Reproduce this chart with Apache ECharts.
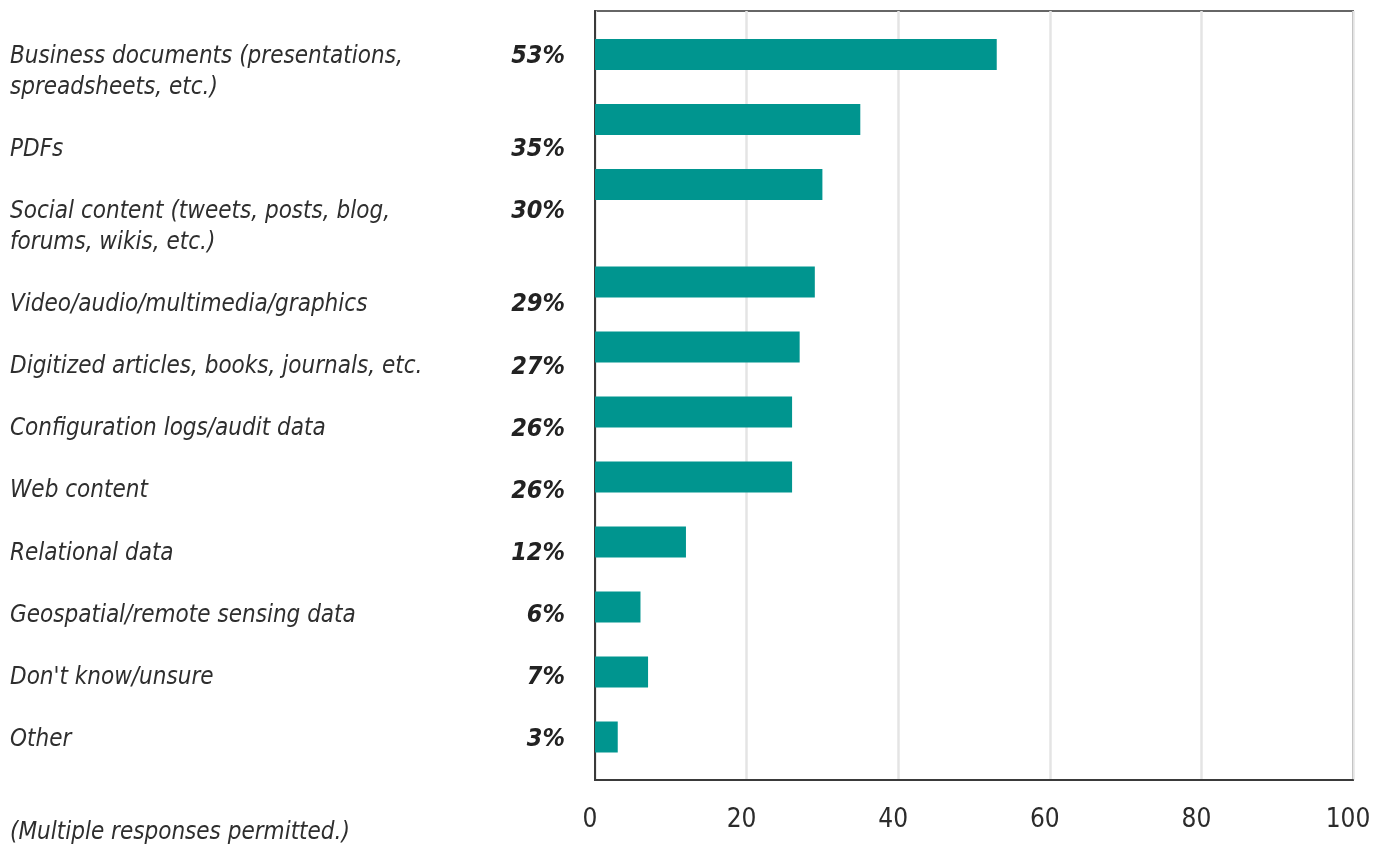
<!DOCTYPE html>
<html>
<head>
<meta charset="utf-8">
<script src="https://cdn.jsdelivr.net/npm/echarts@6/dist/echarts.min.js"></script>
<style>
  html, body { margin: 0; padding: 0; background: #ffffff; }
  #chart { width: 1385px; height: 856px; }
</style>
</head>
<body>
<div id="chart"></div>
<script>
// ---- data ----
const categories = [
  'Business documents (presentations,\nspreadsheets, etc.)',
  'PDFs',
  'Social content (tweets, posts, blog,\nforums, wikis, etc.)',
  'Video/audio/multimedia/graphics',
  'Digitized articles, books, journals, etc.',
  'Configuration logs/audit data',
  'Web content',
  'Relational data',
  'Geospatial/remote sensing data',
  "Don't know/unsure",
  'Other'
];
const values = [53, 35, 30, 29, 27, 26, 26, 12, 6, 7, 3];
const axisMin = 0;
const axisMax = 100;
const axisStep = 20;
const note = '(Multiple responses permitted.)';

// ---- layout (how many half-rows each bar occupies in the original) ----
const barSlotSpan = [2, 2, 3, 2, 2, 2, 2, 2, 2, 2, 1];

// label rows: each text line gets a row, plus one blank row between items
const labelRows = [];
const valueRows = [];
categories.forEach((c, i) => {
  const lines = c.split('\n');
  lines.forEach((ln, j) => {
    labelRows.push(ln);
    valueRows.push(j === 0 ? values[i] + '%' : '');
  });
  if (i < categories.length - 1) { labelRows.push(''); valueRows.push(''); }
});

// bar rows
const barRows = [];
const barData = [];
categories.forEach((c, i) => {
  for (let k = 0; k < barSlotSpan[i]; k++) {
    const key = k === 0 ? c : c + '__pad' + k;
    barRows.push(key);
    barData.push(k === 0 ? values[i] : null);
  }
});

const FONT = '"DejaVu Sans Condensed", "Liberation Sans Narrow", sans-serif';

const chart = echarts.init(document.getElementById('chart'));
chart.setOption({
  animation: false,
  backgroundColor: '#ffffff',
  grid: [
    { left: 595, right: 32, top: 11, bottom: 76, show: true, borderColor: '#666666', borderWidth: 2, backgroundColor: 'transparent' },
    { left: 10, right: 820, top: 41, height: 714.2 },
    { left: 595, right: 32, top: 38.25, height: 715 }
  ],
  xAxis: [
    {
      gridIndex: 0, type: 'value', min: axisMin, max: axisMax, interval: axisStep,
      axisLine: { show: true, lineStyle: { color: '#3a3a3a', width: 2 } },
      axisTick: { show: false },
      splitLine: { show: true, lineStyle: { color: '#e4e4e4', width: 2.5 } },
      axisLabel: { fontFamily: FONT, fontSize: 26, color: '#2b2b2b', margin: 27, padding: [0, 10, 0, 0] }
    },
    { gridIndex: 1, type: 'value', show: false },
    { gridIndex: 2, type: 'value', min: axisMin, max: axisMax, show: false }
  ],
  yAxis: [
    { gridIndex: 0, type: 'value', min: 0, max: 1, show: true,
      axisLine: { show: true, lineStyle: { color: '#3a3a3a', width: 2 } },
      axisTick: { show: false }, axisLabel: { show: false }, splitLine: { show: false } },
    {
      gridIndex: 1, type: 'category', data: labelRows, inverse: true, position: 'left',
      axisLine: { show: false }, axisTick: { show: false }, splitLine: { show: false },
      axisLabel: { interval: 0, align: 'left', margin: 0, fontFamily: FONT, fontStyle: 'italic', fontSize: 24, color: '#2e2e2e' }
    },
    {
      gridIndex: 1, type: 'category', data: valueRows, inverse: true, position: 'right',
      axisLine: { show: false }, axisTick: { show: false }, splitLine: { show: false },
      axisLabel: { interval: 0, align: 'right', margin: 0, fontFamily: FONT, fontStyle: 'italic', fontWeight: 'bold', fontSize: 25, color: '#222222' }
    },
    {
      gridIndex: 2, type: 'category', data: barRows, inverse: true, show: false
    }
  ],
  graphic: [
    { type: 'text', left: 10, top: 821, style: { text: note, fontFamily: FONT, fontStyle: 'italic', fontSize: 24, fill: '#2e2e2e' } }
  ],
  series: [
    {
      type: 'bar', xAxisIndex: 2, yAxisIndex: 3, data: barData,
      barWidth: 31, itemStyle: { color: '#00958f' }, z: 3, silent: true
    }
  ]
});
</script>
</body>
</html>
